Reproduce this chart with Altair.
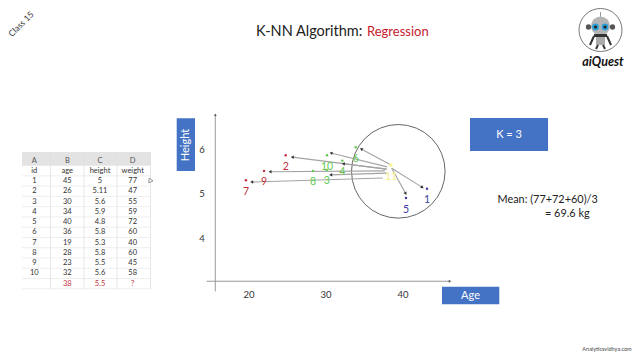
import math
import altair as alt
import pandas as pd

# ---- scatter data
ids = ["7", "9", "2", "8", "3", "10", "4", "6", "5", "1"]
ages = [19.6, 21.95, 24.77, 28.31, 30.09, 30.13, 32.12, 33.86, 40.39, 43.12]
heights = [5.32, 5.53, 5.88, 5.53, 5.55, 5.88, 5.76, 6.06, 4.92, 5.13]
groups = ["red", "red", "red", "green", "green", "green", "green", "green", "blue", "blue"]
label_dx = [1, 1, 0, 1, 0, 3, 1, 2, 1, 1]

query_age, query_height = 38.44, 5.66

arrow_age0 = [38.44, 37.92, 37.88, 37.88, 37.66, 37.88, 37.36, 38.53, 38.53]
arrow_h0 = [5.66, 5.62, 5.57, 5.57, 5.53, 5.48, 5.37, 5.59, 5.59]
arrow_age1 = [34.58, 30.65, 25.62, 32.25, 22.73, 30.61, 20.35, 42.51, 40.35]
arrow_h1 = [6.02, 5.93, 5.84, 5.69, 5.51, 5.44, 5.28, 5.16, 5.02]

age_ticks = [20, 30, 40]
height_ticks = [4, 5, 6]

# ---- spreadsheet
col_letters = ["A", "B", "C", "D"]
table_head = ["id", "age", "height", "weight"]
table_rows = [
    ["1", "45", "5", "77"], ["2", "26", "5.11", "47"], ["3", "30", "5.6", "55"],
    ["4", "34", "5.9", "59"], ["5", "40", "4.8", "72"], ["6", "36", "5.8", "60"],
    ["7", "19", "5.3", "40"], ["8", "28", "5.8", "60"], ["9", "23", "5.5", "45"],
    ["10", "32", "5.6", "58"], ["", "38", "5.5", "?"],
]

FONT = "Lato"
BLUE = "#4472C4"
W, H = 624, 344
blank = alt.Data(values=[{}])
colors = {"red": "#c0303a", "green": "#62c94e", "blue": "#3b3ba0"}


def px(x):
    return x - 8


def py(y):
    return y - 8


def txt(s, x, y, size=10, color="#222", **kw):
    kw.setdefault("font", FONT)
    kw.setdefault("align", "center")
    kw.setdefault("baseline", "middle")
    return alt.Chart(blank).mark_text(fontSize=size, color=color, **kw).encode(
        x=alt.value(px(x)), y=alt.value(py(y)), text=alt.value(s))


def box(x0, x1, y0, y1, fill, **kw):
    return alt.Chart(blank).mark_rect(fill=fill, **kw).encode(
        x=alt.value(px(x0)), x2=alt.value(px(x1)), y=alt.value(py(y0)), y2=alt.value(py(y1)))


def seg(x0, y0, x1, y1, color="#dddddd", w=0.7):
    return alt.Chart(blank).mark_rule(color=color, strokeWidth=w).encode(
        x=alt.value(px(x0)), x2=alt.value(px(x1)), y=alt.value(py(y0)), y2=alt.value(py(y1)))


def dot(x, y, size, fill=None, stroke=None, sw=1, shape="circle", angle=0):
    kw = {"shape": shape, "size": size, "angle": angle, "opacity": 1}
    if fill:
        kw.update(fill=fill, filled=True)
    else:
        kw.update(fill="transparent")
    if stroke:
        kw.update(stroke=stroke, strokeWidth=sw)
    return alt.Chart(blank).mark_point(**kw).encode(x=alt.value(px(x)), y=alt.value(py(y)))


# page pixels 8..632 across and 8..352 down, mapped to the chart's age and height units
AGE_MIN, AGE_MAX = -11.3, 69.74
H_MIN, H_MAX = 1.46, 9.19
age_scale = alt.Scale(domain=[AGE_MIN, AGE_MAX], nice=False, zero=False)
h_scale = alt.Scale(domain=[H_MIN, H_MAX], nice=False, zero=False)
X_PER = W / (AGE_MAX - AGE_MIN)
Y_PER = H / (H_MAX - H_MIN)


def head_angle(a0, h0, a1, h1):
    dx = (a1 - a0) * X_PER
    dy = -(h1 - h0) * Y_PER
    return (math.degrees(math.atan2(dx, -dy)) + 360) % 360


pts = pd.DataFrame({"id": ids, "age": ages, "height": heights, "group": groups, "dx": label_dx})
arrows = pd.DataFrame({"a0": arrow_age0, "h0": arrow_h0, "a1": arrow_age1, "h1": arrow_h1})
arrows["ang"] = [head_angle(*r) for r in zip(arrow_age0, arrow_h0, arrow_age1, arrow_h1)]

axis_lines = pd.DataFrame({"a0": [15.62, 14.5], "h0": [2.82, 3.05], "a1": [15.62, 46.1], "h1": [6.79, 3.05]})
axis_lines["ang"] = [head_angle(*r) for r in zip(axis_lines.a0, axis_lines.h0, axis_lines.a1, axis_lines.h1)]

x_enc = alt.X("age:Q", scale=age_scale, axis=None)
y_enc = alt.Y("height:Q", scale=h_scale, axis=None)
color_enc = alt.Color("group:N", scale=alt.Scale(domain=list(colors), range=list(colors.values())), legend=None)


def segments(df, color, w):
    return alt.Chart(df).mark_rule(color=color, strokeWidth=w).encode(
        x=alt.X("a0:Q", scale=age_scale, axis=None), x2="a1:Q",
        y=alt.Y("h0:Q", scale=h_scale, axis=None), y2="h1:Q")


def heads(df, color, size):
    return alt.Chart(df).mark_point(shape="triangle-up", filled=True, fill=color, size=size, opacity=1).encode(
        x=alt.X("a1:Q", scale=age_scale, axis=None),
        y=alt.Y("h1:Q", scale=h_scale, axis=None),
        angle=alt.Angle("ang:Q", scale=None))


layers = []

# spreadsheet
col_x = [34.3, 67.3, 100, 132.7]
row_y0, row_step = 170.7, 10.27
layers.append(box(22, 151, 152, 165.5, "#e3e3e3"))
for vx in [50.5, 84, 117, 150.5]:
    layers.append(seg(vx, 152, vx, 289))
for i in range(len(table_rows) + 2):
    yy = row_y0 - row_step / 2 + i * row_step
    layers.append(seg(22, yy, 151, yy, color="#e6e6e6"))
for c, t in zip(col_x, col_letters):
    layers.append(txt(t, c, 161, size=7.5, color="#555"))
for c, t in zip(col_x, table_head):
    layers.append(txt(t, c, row_y0, size=7.5, color="#333"))
for r, row in enumerate(table_rows):
    for c, t in zip(col_x, row):
        if t:
            red = r == len(table_rows) - 1
            layers.append(txt(t, c, row_y0 + (r + 1) * row_step, size=7.5, color="#c0303a" if red else "#333"))
# cursor
layers.append(dot(150, 180, 22, fill="#ffffff", stroke="#777", sw=0.7, shape="triangle-up", angle=335))

# plot axes
layers.append(segments(axis_lines, "#999999", 1.0))
layers.append(heads(axis_lines, "#555555", 8))

# tick labels, placed through the same scales
x_ticks = pd.DataFrame({"age": age_ticks, "height": [2.74] * len(age_ticks), "t": [str(v) for v in age_ticks]})
y_ticks = pd.DataFrame({"age": [13.9] * len(height_ticks), "height": height_ticks, "t": [str(v) for v in height_ticks]})
for df in (x_ticks, y_ticks):
    layers.append(alt.Chart(df).mark_text(font=FONT, fontSize=9.5, color="#333").encode(x=x_enc, y=y_enc, text="t:N"))

# circle around the neighbours
layers.append(alt.Chart(pd.DataFrame({"age": [39.39], "height": [5.52]})).mark_point(
    shape="circle", size=8760, stroke="#555555", strokeWidth=0.9, fill="transparent", opacity=1).encode(x=x_enc, y=y_enc))

# arrows
layers.append(segments(arrows, "#a3a3a3", 1.1))
layers.append(heads(arrows, "#333333", 12))

# points and labels
layers.append(alt.Chart(pts).mark_point(filled=True, size=6, opacity=1).encode(x=x_enc, y=y_enc, color=color_enc))
layers.append(alt.Chart(pts).mark_text(font=FONT, fontSize=10.5, dy=11.5).encode(
    x=x_enc, y=y_enc, color=color_enc, text="id:N", xOffset=alt.XOffset("dx:Q", scale=None)))

# query point
q = pd.DataFrame({"age": [query_age], "height": [query_height], "t": ["11"]})
layers.append(alt.Chart(q).mark_point(filled=True, fill="#fbf59a", size=14, opacity=1).encode(x=x_enc, y=y_enc))
layers.append(alt.Chart(q).mark_text(font=FONT, fontSize=10.5, color="#f3ee7f", dy=11.5).encode(x=x_enc, y=y_enc, text="t:N"))

# blue boxes
layers.append(box(176.7, 195, 118.3, 171, BLUE))
layers.append(txt("Height", 186, 145, size=11, color="#ffffff", angle=270))
layers.append(box(442, 499.3, 286.7, 304.3, BLUE))
layers.append(txt("Age", 470.5, 296, size=11, color="#ffffff"))
layers.append(box(470, 548, 118, 151, BLUE))
layers.append(txt("K = 3", 509, 135, size=11, color="#ffffff"))

# mean text
layers.append(txt("Mean: (77+72+60)/3", 497.5, 200, size=10.9, color="#222", align="left"))
layers.append(txt("= 69.6 kg", 545, 213.7, size=10.9, color="#222", align="left"))

# title
layers.append(txt("K-NN Algorithm:", 256, 32, size=14.5, color="#222", align="left"))
layers.append(txt("Regression", 367, 32, size=13, color="#c8202c", align="left"))

# class tag
layers.append(txt("Class 15", 21, 24, size=8.5, color="#333", angle=315))

# logo
layers.append(dot(600.5, 30, 1850, stroke="#555555", sw=0.8))
layers.append(seg(600.5, 12, 600.5, 17, color="#999999", w=1))
layers.append(dot(600.5, 26, 360, fill="#b5b5b5"))
layers.append(dot(588.5, 27, 28, fill="#555555"))
layers.append(dot(612.5, 27, 28, fill="#555555"))
layers.append(dot(595.5, 27, 48, fill="#2f9fd8"))
layers.append(dot(605, 27, 48, fill="#2f9fd8"))
layers.append(dot(595.5, 27, 10, fill="#222222"))
layers.append(dot(605, 27, 10, fill="#222222"))
layers.append(box(594, 607, 34, 37, "#333333"))
layers.append(box(596, 605, 37, 45, "#aaaaaa"))
layers.append(seg(594, 36, 590, 45, color="#333333", w=2))
layers.append(seg(607, 36, 611, 45, color="#333333", w=2))
layers.append(seg(598, 45, 596, 49, color="#333333", w=2))
layers.append(seg(603, 45, 605, 49, color="#333333", w=2))
layers.append(txt("aiQuest", 603, 62, size=12.5, color="#111", fontWeight="bold", fontStyle="italic"))

# watermark
layers.append(txt("Analyticsvidhya.com", 607, 349, size=5.5, color="#444"))

chart = alt.layer(*layers).properties(
    width=W, height=H, padding=0, background="#ffffff",
    autosize=alt.AutoSizeParams(type="none"),
).configure_view(stroke=None)

chart.save("out.html", embed_options={"renderer": "svg", "actions": False})
